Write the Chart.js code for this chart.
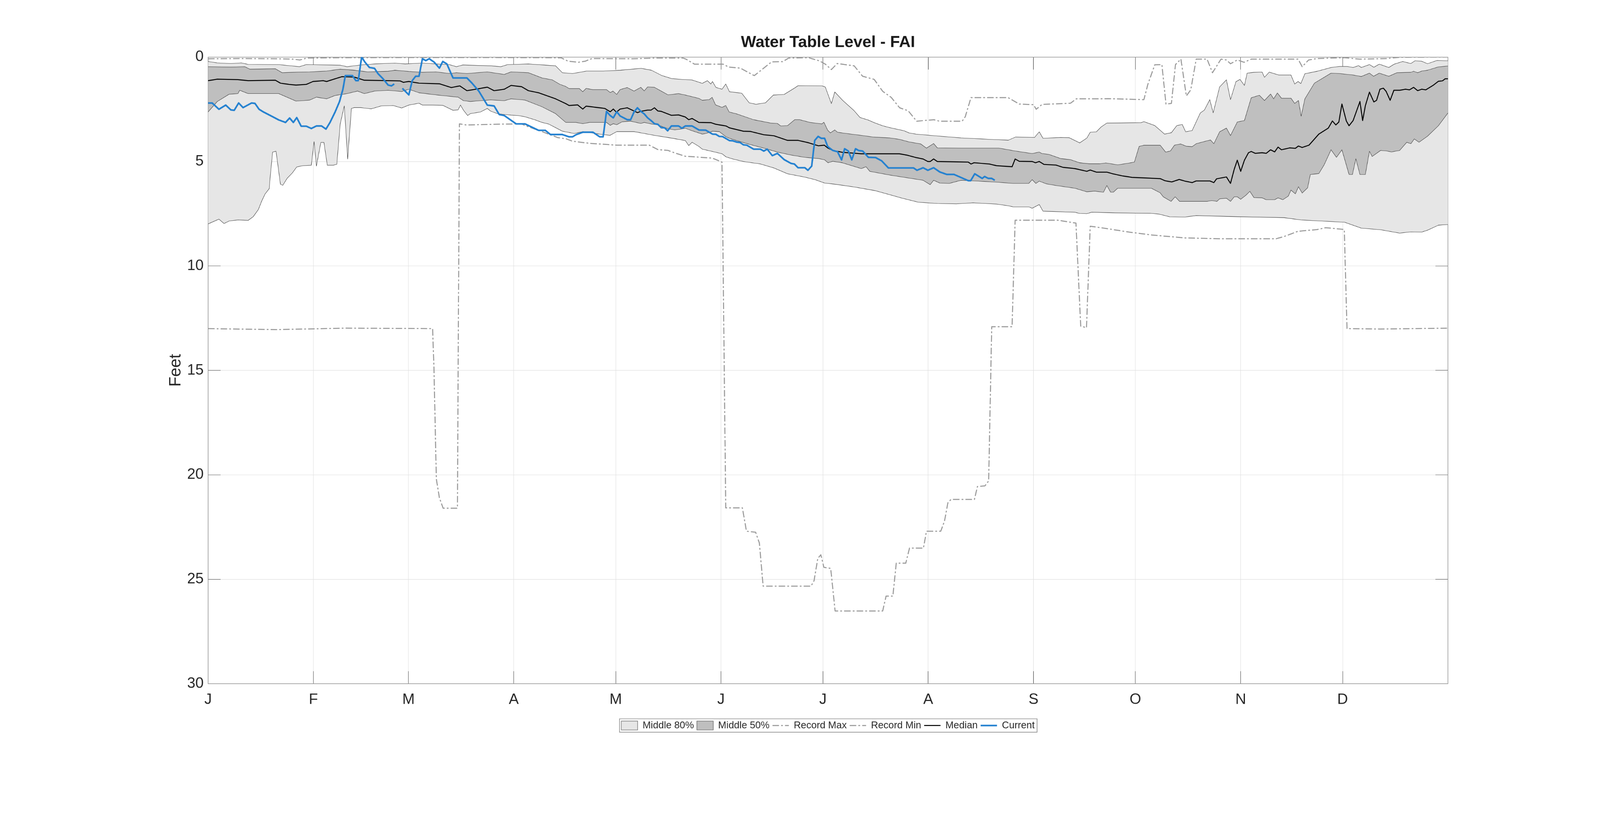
<!DOCTYPE html>
<html>
<head>
<meta charset="utf-8">
<title>Water Table Level - FAI</title>
<script src="https://cdn.jsdelivr.net/npm/chart.js@4.4.1/dist/chart.umd.min.js"></script>
<style>
  html, body { margin: 0; padding: 0; overflow: hidden; background: #ffffff; }
  #frame { position: fixed; left: 0; top: 0; width: 100vw; height: 100vh; overflow: hidden; }
  #wrap { position: absolute; left: 0; top: 0; transform-origin: 0 0; }
</style>
</head>
<body>
<div id="frame"><div id="wrap"><canvas id="WaterTable"></canvas></div></div>
<script>
// the chart is laid out on a 5375 px wide canvas that fills the window
const fitScale = window.innerWidth / 5375;
const canvasH = Math.round(window.innerHeight / fitScale);
const ky = canvasH / 2096;
const wrap = document.getElementById("wrap");
const cv = document.getElementById("WaterTable");
wrap.style.width = "5375px";
wrap.style.height = canvasH + "px";
wrap.style.transform = "scale(" + fitScale + ")";
cv.width = 5375;
cv.height = canvasH;

// Month ticks (day of year where each month starts)
const monthLetters = ["J", "F", "M", "A", "M", "J", "J", "A", "S", "O", "N", "D"];
const monthStarts = [0, 31, 59, 90, 120, 151, 181, 212, 243, 273, 304, 334];

// Series, [day of year, feet below surface]
const lightUpper = [[0,0.21],[2.7,0.28],[6.7,0.31],[9.8,0.28],[11.8,0.35],[20.8,0.36],[26.9,0.46],[28.9,0.36],[38.9,0.39],[40.9,0.46],[45,0.38],[49,0.33],[55,0.29],[58,0.33],[63,0.29],[67.1,0.33],[71,0.36],[73.1,0.46],[75,0.38],[83.2,0.42],[86.2,0.46],[88.2,0.36],[94.3,0.33],[102.3,0.42],[104.3,0.75],[107.3,0.79],[111.4,0.67],[116.4,0.67],[121.4,0.63],[127.5,0.54],[130.5,0.63],[133.5,0.88],[136.5,1.03],[139.5,1.07],[142.5,1.10],[145.5,1.26],[147,1.13],[148,1.29],[148.5,1.17],[149.5,1.45],[151.3,1.54],[152.4,1.29],[153.5,1.66],[157.1,1.73],[159.3,2.19],[161.3,2.26],[164.1,2.19],[166.4,1.82],[169.6,1.79],[172.7,1.48],[173.7,1.37],[180.7,1.38],[181.7,1.43],[183.5,2.23],[184.5,1.67],[186.8,2.07],[190.2,2.57],[191.9,2.89],[194.4,3.02],[196.1,3.14],[198.6,3.29],[200.7,3.38],[204.9,3.53],[206.3,3.63],[208.4,3.69],[214.7,3.78],[221.7,3.87],[231.4,3.95],[235.6,3.98],[237.7,3.83],[243.3,3.85],[244.7,3.58],[245.8,3.89],[251,3.85],[253.5,3.86],[256.6,4.11],[258.7,3.88],[259.7,3.60],[261.5,3.58],[262.9,3.35],[264.6,3.16],[274.7,3.14],[275.5,3.09],[278.7,3.28],[281.6,3.69],[283.6,3.62],[285.2,3.28],[286.8,3.23],[287.8,3.58],[289.7,3.52],[292.1,2.68],[293.3,2.54],[294.9,2.04],[295.9,2.67],[297.8,1.43],[299.8,1.09],[301,2.04],[302.6,1.18],[303.8,1.07],[305.1,1.36],[305.9,0.77],[307.9,0.73],[310.3,0.72],[311,0.97],[312.4,0.72],[315.2,0.86],[318.8,0.86],[319.9,1.29],[320.9,1.17],[321.7,1.27],[322.9,0.80],[326.5,0.68],[330.6,0.50],[333,0.45],[335.4,0.45],[337.1,0.50],[338.7,0.41],[339.5,0.50],[341.9,0.36],[343.2,0.49],[344.8,0.34],[347.6,0.50],[349.2,0.34],[351.7,0.21],[354.1,0.31],[355.3,0.18],[357.3,0.20],[359,0.32],[361.8,0.16],[365,0.18]];

const darkUpper = [[0,0.46],[6.7,0.48],[10.8,0.46],[12.3,0.58],[19.8,0.56],[21.8,0.75],[24.8,0.73],[29.9,0.71],[34.9,0.67],[38.9,0.58],[43,0.63],[47,0.71],[53,0.68],[55,0.63],[59.1,0.69],[63.1,0.73],[67.1,0.71],[71.1,0.79],[73.1,0.75],[76.2,0.79],[82.2,0.71],[87.2,0.83],[89.2,0.71],[94.3,0.75],[98.3,1.0],[101.3,1.09],[103.5,1.3],[105.3,1.41],[106.3,1.51],[109.3,1.51],[110.3,1.66],[111.3,1.5],[113.3,1.56],[117.3,1.56],[118.4,1.7],[119.2,1.63],[120.3,1.79],[121.3,1.56],[123.4,1.46],[125.4,1.63],[127.4,1.45],[128.4,1.62],[129.4,1.43],[131.4,1.45],[133.4,1.63],[135.4,1.81],[138.5,1.75],[140.5,1.82],[144.5,1.98],[145.5,2.07],[147.5,2.04],[148.4,1.93],[149.4,2.29],[151.3,2.41],[152.4,2.32],[153.4,2.63],[155.6,2.72],[160.6,3.0],[165.6,3.16],[167.6,3.18],[168.6,3.3],[170.6,3.28],[172.7,3.0],[174.2,3.0],[177.2,3.13],[180.7,3.2],[181.3,3.12],[182.4,3.5],[183.2,3.63],[184.5,3.49],[185.3,3.6],[188.8,3.68],[192.3,3.75],[195.8,3.83],[200.7,3.87],[203.5,3.94],[206.3,4.06],[209.8,4.16],[211.5,4.36],[213.6,4.14],[214.7,4.35],[221.7,4.36],[232.8,4.36],[237.7,4.5],[242.6,4.62],[244.7,4.55],[245.5,4.62],[247.5,4.66],[251,4.86],[253.8,4.91],[256.6,5.06],[259.4,5.11],[262.5,5.11],[264.3,5.07],[267.8,5.16],[270.6,5.09],[272.7,5.03],[274.1,4.28],[275.5,4.22],[280.3,4.22],[281.9,4.55],[283.3,4.5],[284.5,4.22],[286.3,4.16],[288,4.27],[289.7,4.29],[290.9,4.15],[294.1,4.01],[295.1,3.97],[296.1,4.15],[297.8,3.58],[299.8,3.4],[301,3.76],[303,3.11],[305.1,3.04],[307.1,1.95],[309.5,1.83],[311,2.08],[312.8,1.77],[313.7,2.0],[314.8,1.72],[316,1.97],[318.8,1.97],[319.9,2.22],[321,2.08],[321.8,2.83],[322.9,2.0],[325.7,1.25],[330.6,0.77],[333,0.79],[337.1,0.86],[339.5,0.93],[341.9,0.77],[343.1,0.92],[344.8,0.77],[347.6,0.92],[350,0.75],[354.1,0.73],[354.9,0.68],[356.1,0.75],[357.3,0.67],[359,0.63],[362.2,0.47],[365,0.43]];

const darkLower = [[0,2.63],[2.7,2.13],[6.2,1.78],[8.8,1.75],[9.3,1.59],[11.8,1.75],[20.8,1.75],[25.9,2.11],[29.9,2.06],[31.9,1.92],[34.9,2.0],[37.4,1.84],[40.9,1.75],[44,1.63],[46,1.75],[49,1.63],[53,1.59],[57,1.65],[59.1,1.54],[62.1,1.71],[67.1,1.81],[71.1,1.88],[73.6,1.92],[75.2,2.09],[77.2,2.13],[83.2,2.05],[87.2,2.09],[89.2,2.0],[93.3,2.06],[98.3,2.38],[102.3,2.71],[105.3,3.13],[108.3,3.13],[110.3,3.19],[112.3,3.13],[117.3,3.13],[118.4,3.27],[119.3,3.19],[120.3,3.24],[121.9,3.1],[124.4,3.07],[127.4,3.18],[128.4,3.13],[130.4,3.2],[132.4,3.25],[135.4,3.43],[137.4,3.49],[140.5,3.41],[142.5,3.53],[145.5,3.69],[146.5,3.66],[148.5,3.55],[150.5,3.57],[152.5,3.82],[153.5,3.89],[155.6,4.0],[159.6,4.19],[163.6,4.36],[167.6,4.55],[171.6,4.69],[175.7,4.8],[179.7,4.86],[181.5,4.92],[182.5,5.06],[183.9,4.99],[186.7,5.06],[192.3,5.34],[193.7,5.25],[194.8,5.47],[200.7,5.65],[210.5,5.9],[212.6,6.11],[213.6,5.9],[215.4,6.03],[218.2,6.05],[221.7,5.9],[231.4,5.98],[237,6.05],[241.6,6.05],[242.6,5.87],[243.7,6.05],[244.7,5.94],[246.8,6.07],[249.6,6.15],[255.2,6.28],[258.7,6.45],[261,6.42],[263.6,6.47],[264.6,6.15],[265.7,6.47],[266.5,6.47],[267.8,6.28],[277.7,6.28],[280.3,6.5],[281.2,6.69],[283.5,6.91],[284.7,6.69],[286,6.91],[294.1,6.91],[295.5,6.87],[297,6.91],[297.8,6.79],[299.8,6.76],[301,6.91],[302.1,6.69],[303,6.69],[304,6.81],[305.5,6.62],[306.7,6.43],[307.9,6.73],[310.3,6.74],[311.5,6.83],[314,6.83],[315,6.74],[316.4,6.83],[318,6.66],[318.8,6.37],[320.1,6.55],[321,6.21],[322.1,6.51],[323.7,6.26],[324.5,5.62],[327,5.58],[328.6,5.15],[330.6,4.44],[332.2,4.8],[333.8,4.44],[335.9,5.62],[336.9,5.62],[337.9,4.87],[339.1,5.62],[340.7,5.62],[341.9,4.51],[342.7,4.76],[345.2,4.47],[346.8,4.49],[348.4,4.54],[350.8,4.47],[352.9,4.08],[354.1,4.15],[355.1,3.92],[356.5,4.08],[359,3.79],[362.2,3.29],[365,2.68]];

const lightLower = [[0,7.99],[3.2,7.76],[4.7,7.97],[6.2,7.85],[8.8,7.8],[11.8,7.82],[13.3,7.64],[14.8,7.3],[15.8,6.89],[16.8,6.55],[18,6.3],[18.3,5.72],[19,4.55],[20,4.51],[21.3,6.09],[22,6.14],[23.3,5.8],[24.8,5.55],[26.1,5.26],[27.9,5.2],[30.4,5.18],[31.2,4.05],[31.9,5.22],[33.2,4.09],[34.1,4.09],[35.1,5.18],[36.9,5.18],[37.9,5.13],[38.9,3.21],[40.1,2.34],[41.1,4.88],[42.2,2.46],[43,2.42],[45,2.42],[48,2.48],[51,2.34],[54.5,2.32],[57,2.44],[59.1,2.3],[62.1,2.21],[63.1,2.3],[66.1,2.3],[69.1,2.31],[72.1,2.55],[73.6,2.53],[74.3,2.3],[75.2,2.55],[76.4,2.8],[77.2,2.71],[80.2,2.63],[82.2,2.46],[83.2,2.59],[85.2,2.71],[87.2,2.75],[89.2,2.78],[91.2,2.8],[93.3,2.86],[96.3,3.01],[98.3,3.13],[100.3,3.21],[102.3,3.38],[104.3,3.55],[107.8,3.66],[110.3,3.57],[115.3,3.69],[118.3,3.75],[120.3,3.57],[125.4,3.57],[127.4,3.63],[131.4,3.75],[136.4,3.88],[140.5,4.0],[141.5,4.24],[142.5,4.08],[144.5,4.28],[145.5,4.41],[149.5,4.56],[151.3,4.63],[152.5,4.78],[154.5,4.88],[157.6,5.0],[162.6,5.12],[166.6,5.31],[170.6,5.59],[175.7,5.75],[178.7,5.87],[181.5,6.03],[184.6,6.09],[190.2,6.22],[196.5,6.4],[200.7,6.59],[204.2,6.75],[209.1,6.95],[214.7,7.01],[220.3,7.03],[225.2,6.98],[232.1,7.04],[235.6,7.12],[237,7.17],[241.6,7.17],[242.6,7.24],[244.7,7.06],[245.8,7.38],[249.6,7.4],[255.2,7.43],[256.6,7.49],[258.7,7.5],[260.1,7.43],[267.1,7.46],[277.5,7.48],[280,7.52],[283.1,7.65],[287.6,7.66],[290.9,7.59],[302.2,7.64],[316.8,7.69],[321.7,7.8],[334.6,7.91],[339.5,8.19],[345.2,8.27],[350.8,8.43],[354.1,8.37],[357.3,8.38],[359,8.29],[362.2,8.05],[365,8.02]];

const recordMax = [[0,0.08],[10,0.07],[20,0.08],[25,0.1],[27,0.14],[29,0.05],[40,0.03],[60,0.02],[80,0.02],[100,0.03],[104,0.04],[106,0.2],[109,0.25],[111,0.2],[113,0.07],[125,0.08],[131.5,0.05],[139.9,0.05],[140.7,0.1],[143.2,0.34],[151.6,0.34],[153.3,0.48],[156.7,0.53],[160.8,0.89],[165.9,0.23],[169.2,0.22],[170.9,0.05],[176.8,0.03],[180.1,0.19],[181.8,0.35],[183.5,0.6],[185.2,0.31],[190.2,0.42],[192.7,0.92],[196.1,1.07],[198.6,1.64],[201.1,1.93],[203.6,2.43],[206.1,2.57],[208.6,3.07],[213.7,3.0],[215.3,3.07],[222,3.07],[222.9,2.86],[224.6,1.94],[235.5,1.94],[238.8,2.25],[243,2.28],[243.8,2.5],[245.5,2.27],[253.9,2.21],[255.6,2.0],[261.7,2.0],[265,1.99],[275.5,2.04],[276.7,1.29],[278.7,0.37],[280.8,0.36],[282,2.25],[283.6,2.22],[284.8,0.36],[286.4,0.1],[288,1.86],[289.3,1.57],[290.9,0.1],[294.1,0.1],[295.7,0.75],[298.2,0.1],[299.8,0.14],[301,0.32],[303,0.14],[305,0.25],[307.1,0.1],[320.9,0.1],[322.1,0.46],[324,0.14],[326.5,0.07],[334.6,0.03],[339,0.1],[347,0.07],[351,0.01],[365,0]];

const recordMin = [[0,13.0],[20,13.05],[40,12.98],[66.1,13.0],[66.5,14.9],[67.2,20.2],[68.1,21.1],[69.2,21.6],[73.4,21.6],[74.0,3.2],[76,3.25],[87,3.21],[92.2,3.2],[94.5,3.35],[98,3.55],[103,3.86],[105.3,3.91],[107.3,4.03],[112.3,4.13],[120.3,4.22],[129.9,4.22],[132.4,4.43],[135.4,4.47],[137.4,4.59],[140.5,4.75],[143.5,4.78],[148.5,4.84],[151.3,5.03],[152.4,21.58],[157.3,21.58],[158.5,22.7],[161.2,22.75],[162.3,23.27],[163.4,25.33],[177.5,25.33],[178.4,25.07],[179.5,24.0],[180.4,23.83],[181.3,24.43],[183.3,24.48],[184.6,26.52],[198.6,26.52],[199.6,25.81],[201.6,25.81],[202.6,24.23],[205.4,24.23],[206.5,23.51],[210.6,23.51],[211.5,22.7],[215.7,22.7],[216.8,22.22],[217.8,21.34],[218.7,21.18],[225.6,21.18],[226.5,20.56],[228.7,20.53],[229.8,20.29],[230.7,12.91],[236.7,12.91],[237.6,7.81],[250.1,7.81],[255.5,7.95],[256.9,12.88],[258.6,12.96],[259.7,8.1],[264.5,8.21],[270.7,8.37],[277.9,8.52],[287.6,8.66],[298.2,8.7],[314.4,8.7],[316.8,8.59],[320.9,8.34],[326.5,8.26],[329,8.17],[333,8.23],[334.5,8.26],[335.3,13.0],[345,13.02],[365,12.98]];

const median = [[0,1.13],[2.7,1.06],[8.8,1.08],[11.8,1.13],[19.8,1.11],[21.3,1.25],[23.8,1.31],[25.9,1.34],[28.9,1.31],[30.9,1.17],[33.9,1.13],[34.9,1.17],[37.4,1.04],[39.4,0.94],[43,0.96],[46,1.11],[53,1.13],[56.5,1.14],[57.5,1.21],[59.1,1.17],[62.1,1.25],[68.1,1.28],[71.6,1.46],[74.1,1.38],[76.2,1.61],[79.2,1.53],[82.2,1.44],[84.2,1.61],[87.2,1.54],[89.2,1.36],[92.3,1.42],[94.3,1.61],[97.3,1.71],[102.3,2.0],[105.3,2.23],[106.3,2.32],[108.8,2.29],[110.3,2.49],[111.3,2.35],[116.8,2.46],[118.4,2.62],[119.3,2.49],[120.2,2.64],[121.3,2.49],[123.4,2.43],[126.4,2.66],[127.4,2.6],[129.4,2.54],[130.4,2.54],[131.4,2.43],[132.4,2.58],[133.4,2.6],[136.4,2.79],[138.5,2.77],[140.5,2.87],[141.5,3.0],[142.5,2.94],[144.5,3.13],[148,3.14],[149.5,3.22],[152.5,3.3],[153.5,3.39],[157.6,3.55],[159.6,3.56],[163.6,3.72],[166.6,3.77],[170.6,3.99],[173.7,3.99],[176.7,4.1],[179.7,4.25],[181.4,4.22],[182.5,4.36],[183.9,4.47],[186.7,4.56],[192.3,4.63],[203.5,4.63],[205.6,4.69],[208.4,4.81],[210.5,4.88],[211.9,5.0],[212.6,5.0],[213.6,4.88],[214.7,5.0],[223.8,5.03],[224.6,5.12],[225.5,5.06],[230,5.12],[232.1,5.2],[236.7,5.25],[237.6,4.88],[238.8,4.99],[242.6,5.0],[243.6,5.06],[244.7,5.0],[246.1,5.14],[249.6,5.17],[251.7,5.28],[255.2,5.34],[258.7,5.47],[259.7,5.41],[261.5,5.51],[264.6,5.51],[266.4,5.59],[269.2,5.69],[272,5.76],[280.3,5.82],[281.7,5.92],[283.7,5.98],[285.9,5.86],[287.6,5.94],[289.7,6.01],[290.9,5.93],[294.9,5.93],[296.1,6.01],[296.9,5.83],[299.8,5.74],[301,6.05],[302.1,5.37],[303,4.94],[304,5.47],[305.1,4.94],[306.3,4.58],[307.1,4.52],[308.3,4.61],[310.3,4.58],[311.5,4.61],[312.8,4.44],[314,4.54],[315,4.31],[316,4.44],[318.4,4.35],[320.1,4.37],[321,4.26],[322.1,4.33],[324.1,4.22],[327,3.69],[329.8,3.4],[331,3.06],[332,3.25],[332.9,3.11],[333.8,2.25],[335.1,3.06],[335.9,3.29],[337.1,3.04],[339.1,2.13],[339.9,3.04],[340.7,2.33],[341.9,1.68],[343.2,2.15],[344,2.07],[345,1.54],[346,1.49],[346.8,1.64],[348,2.07],[349.1,1.59],[350.8,1.59],[352.5,1.54],[353.7,1.57],[354.9,1.45],[356.1,1.61],[357.3,1.54],[358.5,1.57],[360.6,1.36],[362.2,1.16],[363.4,1.14],[364.2,1.04],[365,1.04]];

// null = missing reading
const current = [[0,2.2],[1.2,2.2],[3.2,2.5],[5.2,2.3],[6.7,2.53],[7.7,2.55],[9,2.2],[10.3,2.42],[12.8,2.2],[13.8,2.22],[15,2.5],[16.3,2.63],[18.8,2.84],[20.8,3.01],[22.8,3.13],[24,2.92],[25.1,3.13],[26.1,2.9],[27.4,3.31],[28.9,3.31],[30.4,3.42],[31.9,3.3],[33.4,3.3],[34.7,3.45],[35.9,3.13],[37.4,2.63],[38.7,2.13],[39.7,1.54],[40.4,0.89],[42.5,0.89],[43.5,1.13],[44.2,1.13],[45.2,0],[46.2,0.25],[47.5,0.5],[49,0.54],[50,0.79],[51.5,1.04],[53,1.34],[54,1.38],[54.8,1.29],[56,null],[57.2,1.5],[59.1,1.81],[60.1,1.13],[61.1,0.92],[62.1,0.92],[63.1,0.08],[64.1,0.17],[65.1,0.08],[66.6,0.25],[68.1,0.53],[69.1,0.21],[70.3,0.33],[72.1,1.0],[76.2,1.0],[77.7,1.25],[79.7,1.63],[82.2,2.3],[84.2,2.34],[85.7,2.75],[87.2,2.8],[90.7,3.2],[93.3,3.2],[97.3,3.51],[99.3,3.51],[100.8,3.71],[104.3,3.71],[106.3,3.82],[107.3,3.82],[108.3,3.72],[110.3,3.6],[113.3,3.6],[115.3,3.82],[116.3,3.82],[117.3,2.6],[118.3,2.79],[119.3,2.91],[120.3,2.62],[121.3,2.82],[123.4,3.0],[124.4,3.0],[125.4,2.63],[126.4,2.43],[127.4,2.6],[128.4,2.72],[129.4,2.91],[130.4,3.04],[131.4,3.19],[132.4,3.22],[133.4,3.38],[134.4,3.39],[135.3,3.53],[136.4,3.3],[138.5,3.3],[139.5,3.41],[140.5,3.3],[142.5,3.3],[144.5,3.49],[146.5,3.5],[148.5,3.69],[149.5,3.7],[150.5,3.8],[151.5,3.81],[153.5,4.0],[154.5,4.01],[155.6,4.07],[156.6,4.09],[157.6,4.2],[158.6,4.22],[160.6,4.41],[162.6,4.41],[163.6,4.5],[164.6,4.41],[166.1,4.72],[167.6,4.61],[169.6,4.91],[171.6,5.09],[172.6,5.12],[173.7,5.3],[175.7,5.3],[176.6,5.42],[177.7,5.22],[178.6,3.99],[179.6,3.8],[180.5,3.89],[181.5,3.89],[182.4,4.28],[183.9,4.47],[185.3,4.53],[186.5,4.92],[187.4,4.39],[188.5,4.5],[189.5,4.92],[190.6,4.39],[191.6,4.48],[192.7,4.5],[194.4,4.8],[196.5,4.81],[198.3,4.97],[200.3,5.31],[207.7,5.31],[208.7,5.42],[210.5,5.3],[211.9,5.42],[213.6,5.3],[215.4,5.5],[217.5,5.62],[219.6,5.62],[221,5.72],[223.8,5.92],[224.5,5.92],[225.7,5.59],[227.9,5.81],[228.6,5.72],[229.7,5.81],[230.7,5.81],[231.6,5.9]];

const pts = (arr) => arr.map(p => ({x: p[0], y: p[1]}));

const recGray = "#999999";
const edgeGray = "#3a3a3a";
const dashDot = [22, 7, 6, 7];
const tickInk = "#262626";

// vertical layout, taken from the reference and stretched to the window height
const plotTop = 146 * ky, plotBottom = 1750 * ky;
const padTop = 109 * ky - 32.4;
const titleGap = plotTop - padTop - 64.8;
const legendTop = 1857 * ky - 26.5;
const xAxisH = legendTop - plotBottom;
const padBottom = canvasH - legendTop - 53;
const xTickPad = 1791 * ky - plotBottom + 12;

Chart.defaults.font.family = "'Liberation Sans', Arial, Helvetica, sans-serif";
Chart.defaults.color = tickInk;

const setMonthTicks = (scale) => { scale.ticks = monthStarts.map(v => ({value: v})); };

// Datasets: 0 current, 1 median, 2 rec max, 3 rec min, 4/5 middle 50% edges, 6/7 middle 80% edges
const legendOrder = [6, 4, 2, 3, 1, 0];

// frame round the legend, like the boxed legend in the original
const legendFrame = {
  id: "legendFrame",
  afterDraw(chart) {
    const boxes = chart.legend && chart.legend.legendHitBoxes;
    if (!boxes || !boxes.length) return;
    const first = boxes[0], last = boxes[boxes.length - 1];
    const cy = first.top + first.height / 2;
    const ctx = chart.ctx;
    ctx.save();
    ctx.strokeStyle = "#8c8c8c";
    ctx.lineWidth = 2;
    ctx.strokeRect(first.left - 6, cy - 22.5, last.left + last.width - first.left + 14, 45);
    ctx.restore();
  }
};

new Chart("WaterTable", {
  type: "line",
  data: {
    datasets: [
      {label: "Current", data: pts(current), borderColor: "#2481d0", borderWidth: 5.5, order: 0, spanGaps: false},
      {label: "Median", data: pts(median), borderColor: "#000000", borderWidth: 3.2, order: 1},
      {label: "Record Max", data: pts(recordMax), borderColor: recGray, borderWidth: 3.5, borderDash: dashDot, order: 2},
      {label: "Record Min", data: pts(recordMin), borderColor: recGray, borderWidth: 3.5, borderDash: dashDot, order: 3},
      {label: "Middle 50%", data: pts(darkUpper), borderColor: edgeGray, borderWidth: 1.3, backgroundColor: "#bfbfbf", fill: 5, order: 4},
      {label: "", data: pts(darkLower), borderColor: edgeGray, borderWidth: 1.3, fill: false, order: 5},
      {label: "Middle 80%", data: pts(lightUpper), borderColor: edgeGray, borderWidth: 1.3, backgroundColor: "#e6e6e6", fill: 7, order: 6},
      {label: "", data: pts(lightLower), borderColor: edgeGray, borderWidth: 1.3, fill: false, order: 7}
    ]
  },
  options: {
    responsive: false,
    devicePixelRatio: 1,
    animation: false,
    events: [],
    elements: {
      point: {radius: 0, hitRadius: 0},
      line: {tension: 0, borderJoinStyle: "round", fill: false}
    },
    layout: {padding: {top: padTop, right: 511, bottom: padBottom, left: 0}},
    scales: {
      x: {
        type: "linear", position: "bottom", min: 0, max: 365,
        afterBuildTicks: setMonthTicks,
        afterFit: (s) => { s.height = xAxisH; },
        ticks: {
          autoSkip: false, maxRotation: 0, padding: xTickPad,
          font: {size: 50}, color: tickInk,
          callback: (v) => monthLetters[monthStarts.indexOf(v)]
        },
        grid: {color: "#dfdfdf", lineWidth: 1.5, tickLength: -42, tickColor: tickInk, tickWidth: 1.2},
        border: {color: "#8c8c8c", width: 2}
      },
      x2: {
        type: "linear", position: "top", min: 0, max: 365,
        afterBuildTicks: setMonthTicks,
        afterFit: (s) => { s.height = 0; },
        ticks: {display: false},
        grid: {drawOnChartArea: false, tickLength: -42, tickColor: tickInk, tickWidth: 1.2},
        border: {color: "#8c8c8c", width: 2}
      },
      y: {
        type: "linear", position: "left", min: 0, max: 30, reverse: true,
        afterFit: (s) => { s.width = 699; },
        ticks: {stepSize: 5, padding: 57, font: {size: 50}, color: tickInk},
        grid: {color: "#dfdfdf", lineWidth: 1.5, tickLength: -42, tickColor: tickInk, tickWidth: 1.2},
        border: {color: "#8c8c8c", width: 2},
        title: {display: true, text: "Feet", font: {size: 55}, color: tickInk, padding: {top: 558, bottom: 0}}
      },
      y2: {
        type: "linear", position: "right", min: 0, max: 30, reverse: true,
        afterFit: (s) => { s.width = 0; },
        ticks: {display: false, stepSize: 5},
        grid: {drawOnChartArea: false, tickLength: -42, tickColor: tickInk, tickWidth: 1.2},
        border: {color: "#8c8c8c", width: 2}
      }
    },
    plugins: {
      filler: {drawTime: "beforeDatasetsDraw"},
      tooltip: {enabled: false},
      title: {
        display: true, fullSize: false,
        text: "Water Table Level - FAI",
        font: {size: 54, weight: "bold"}, color: "#1a1a1a",
        padding: {top: 0, bottom: titleGap}
      },
      legend: {
        position: "bottom", fullSize: false,
        labels: {
          usePointStyle: true, pointStyleWidth: 55, boxHeight: 30, padding: 10,
          font: {size: 33}, color: tickInk,
          generateLabels: (chart) => legendOrder.map(i => {
            const ds = chart.data.datasets[i];
            const band = typeof ds.fill === "number";
            return {
              text: ds.label,
              datasetIndex: i,
              fillStyle: band ? ds.backgroundColor : "rgba(0,0,0,0)",
              strokeStyle: band ? "#7a7a7a" : ds.borderColor,
              lineWidth: band ? 2 : ds.borderWidth,
              lineDash: ds.borderDash || [],
              pointStyle: band ? "rect" : "line",
              fontColor: tickInk,
              hidden: false
            };
          })
        }
      }
    }
  },
  plugins: [legendFrame]
});
</script>
</body>
</html>
